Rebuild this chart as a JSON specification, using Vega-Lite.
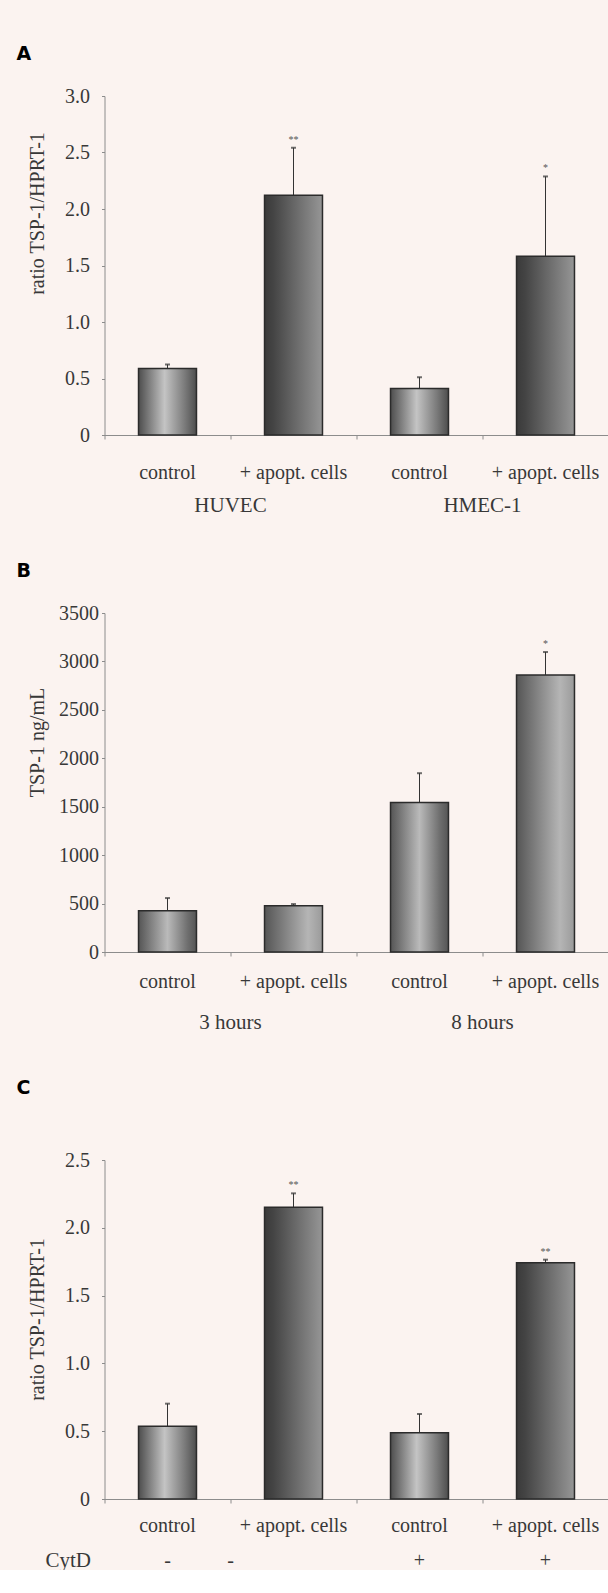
{
  "$schema": "https://vega.github.io/schema/vega-lite/v6.json",
  "background": "#fbf3f0",
  "padding": {"left": 16.5, "top": 45, "right": 0, "bottom": 0},
  "spacing": 47,
  "config": {
    "view": {"stroke": null},
    "font": "Liberation Serif",
    "axis": {
      "labelFont": "Liberation Serif", "titleFont": "Liberation Serif",
      "labelColor": "#383838", "titleColor": "#383838",
      "domainColor": "#8c8c8c", "tickColor": "#8c8c8c",
      "labelFontSize": 20, "titleFontSize": 20, "titleFontWeight": "normal",
      "grid": false, "labelOverlap": false, "labelBound": false, "labelFlush": false
    },
    "title": {"font": "DejaVu Sans", "fontWeight": "bold", "fontSize": 19, "color": "#000000", "anchor": "start", "frame": "group", "baseline": "alphabetic"}
  },
  "vconcat": [
    {
      "title": {"text": "A", "dx": -88, "offset": 22},
      "width": 504, "height": 339,
      "data": {"values": [
        {"id": "control|HUVEC", "kind": "control", "value": 0.588, "err": 0.624, "sig": ""},
        {"id": "+ apopt. cells|HUVEC", "kind": "apopt", "value": 2.122, "err": 2.542, "sig": "**"},
        {"id": "control|HMEC-1", "kind": "control", "value": 0.411, "err": 0.511, "sig": ""},
        {"id": "+ apopt. cells|HMEC-1", "kind": "apopt", "value": 1.581, "err": 2.288, "sig": "*"}
      ]},
      "resolve": {"axis": {"x": "independent"}},
      "layer": [
        {
          "mark": {"type": "rule", "color": "#333333", "strokeWidth": 1},
          "encoding": {
            "x": {"field": "id", "type": "nominal", "sort": null,
                  "axis": {"orient": "bottom", "title": null, "domain": false, "ticks": false, "labelAngle": 0, "labelBaseline": "alphabetic", "labelPadding": 76, "labelOffset": 63, "labelFontSize": 21,
                           "labelExpr": "split(datum.value, '|')[0] == 'control' ? split(datum.value, '|')[1] : ''"}},
            "y": {"field": "value", "type": "quantitative"},
            "y2": {"field": "err"}
          }
        },
        {
          "mark": {"type": "bar", "width": {"band": 0.46}, "stroke": "#2b2b2b", "strokeWidth": 1.5},
          "encoding": {
            "x": {"field": "id", "type": "nominal", "sort": null,
                  "scale": {"paddingInner": 0, "paddingOuter": 0},
                  "axis": {"orient": "bottom", "title": null, "labelAngle": 0, "bandPosition": 0, "tickSize": 4, "labelBaseline": "alphabetic", "labelPadding": 39,
                           "labelExpr": "split(datum.value, '|')[0]"}},
            "y": {"field": "value", "type": "quantitative",
                  "scale": {"domain": [0, 3], "nice": false},
                  "axis": {"title": "ratio TSP-1/HPRT-1", "values": [0, 0.5, 1, 1.5, 2, 2.5, 3], "labelExpr": "datum.value == 0 ? '0' : format(datum.value, '.1f')", "tickSize": 3, "labelPadding": 12,
                           "titleAngle": 270, "titleX": -61, "titleY": 117, "titleAlign": "center", "titleBaseline": "alphabetic"}},
            "fill": {
              "condition": {"test": "datum.kind == 'control'",
                "value": {"gradient": "linear", "x1": 0, "y1": 0, "x2": 1, "y2": 0, "stops": [{"offset": 0, "color": "#4d4d4d"}, {"offset": 0.45, "color": "#c4c4c4"}, {"offset": 0.8, "color": "#7a7a7a"}, {"offset": 1, "color": "#4d4d4d"}]}},
              "value": {"gradient": "linear", "x1": 0, "y1": 0, "x2": 1, "y2": 0, "stops": [{"offset": 0, "color": "#3a3a3a"}, {"offset": 0.15, "color": "#444444"}, {"offset": 1, "color": "#969696"}]}
            }
          }
        },
        {
          "mark": {"type": "tick", "size": 5, "thickness": 2, "color": "#333333"},
          "encoding": {
            "x": {"field": "id", "type": "nominal", "sort": null, "axis": null},
            "y": {"field": "err", "type": "quantitative"}
          }
        },
        {
          "mark": {"type": "text", "dy": -8, "fontSize": 10, "color": "#555555", "baseline": "middle"},
          "encoding": {
            "x": {"field": "id", "type": "nominal", "sort": null, "axis": null},
            "y": {"field": "err", "type": "quantitative"},
            "text": {"field": "sig"}
          }
        }
      ]
    },
    {
      "title": {"text": "B", "dx": -88, "offset": 22},
      "width": 504, "height": 339,
      "data": {"values": [
        {"id": "control|3 hours", "kind": "control", "value": 426, "err": 557, "sig": ""},
        {"id": "+ apopt. cells|3 hours", "kind": "apopt", "value": 478, "err": 495, "sig": ""},
        {"id": "control|8 hours", "kind": "control", "value": 1543, "err": 1846, "sig": ""},
        {"id": "+ apopt. cells|8 hours", "kind": "apopt", "value": 2860, "err": 3097, "sig": "*"}
      ]},
      "resolve": {"axis": {"x": "independent"}},
      "layer": [
        {
          "mark": {"type": "rule", "color": "#333333", "strokeWidth": 1},
          "encoding": {
            "x": {"field": "id", "type": "nominal", "sort": null,
                  "axis": {"orient": "bottom", "title": null, "domain": false, "ticks": false, "labelAngle": 0, "labelBaseline": "alphabetic", "labelPadding": 76, "labelOffset": 63, "labelFontSize": 21,
                           "labelExpr": "split(datum.value, '|')[0] == 'control' ? split(datum.value, '|')[1] : ''"}},
            "y": {"field": "value", "type": "quantitative"},
            "y2": {"field": "err"}
          }
        },
        {
          "mark": {"type": "bar", "width": {"band": 0.46}, "stroke": "#2b2b2b", "strokeWidth": 1.5},
          "encoding": {
            "x": {"field": "id", "type": "nominal", "sort": null,
                  "scale": {"paddingInner": 0, "paddingOuter": 0},
                  "axis": {"orient": "bottom", "title": null, "labelAngle": 0, "bandPosition": 0, "tickSize": 4, "labelBaseline": "alphabetic", "labelPadding": 31,
                           "labelExpr": "split(datum.value, '|')[0]"}},
            "y": {"field": "value", "type": "quantitative",
                  "scale": {"domain": [0, 3500], "nice": false},
                  "axis": {"title": "TSP-1 ng/mL", "values": [0, 500, 1000, 1500, 2000, 2500, 3000, 3500], "format": "d", "tickSize": 3, "labelPadding": 3,
                           "titleAngle": 270, "titleX": -61, "titleY": 129, "titleAlign": "center", "titleBaseline": "alphabetic"}},
            "fill": {
              "condition": {"test": "datum.kind == 'control'",
                "value": {"gradient": "linear", "x1": 0, "y1": 0, "x2": 1, "y2": 0, "stops": [{"offset": 0, "color": "#555555"}, {"offset": 0.5, "color": "#bababa"}, {"offset": 0.85, "color": "#6e6e6e"}, {"offset": 1, "color": "#555555"}]}},
              "value": {"gradient": "linear", "x1": 0, "y1": 0, "x2": 1, "y2": 0, "stops": [{"offset": 0, "color": "#555555"}, {"offset": 0.75, "color": "#b5b5b5"}, {"offset": 1, "color": "#9a9a9a"}]}
            }
          }
        },
        {
          "mark": {"type": "tick", "size": 5, "thickness": 2, "color": "#333333"},
          "encoding": {
            "x": {"field": "id", "type": "nominal", "sort": null, "axis": null},
            "y": {"field": "err", "type": "quantitative"}
          }
        },
        {
          "mark": {"type": "text", "dy": -8, "fontSize": 10, "color": "#555555", "baseline": "middle"},
          "encoding": {
            "x": {"field": "id", "type": "nominal", "sort": null, "axis": null},
            "y": {"field": "err", "type": "quantitative"},
            "text": {"field": "sig"}
          }
        }
      ]
    },
    {
      "title": {"text": "C", "dx": -88, "offset": 52},
      "width": 504, "height": 339,
      "data": {"values": [
        {"id": "control|-", "kind": "control", "value": 0.536, "err": 0.703, "sig": ""},
        {"id": "+ apopt. cells|-", "kind": "apopt", "value": 2.151, "err": 2.254, "sig": "**"},
        {"id": "control|+", "kind": "control", "value": 0.489, "err": 0.627, "sig": ""},
        {"id": "+ apopt. cells|+", "kind": "apopt", "value": 1.743, "err": 1.765, "sig": "**"}
      ]},
      "resolve": {"axis": {"x": "independent"}},
      "layer": [
        {
          "mark": {"type": "rule", "color": "#333333", "strokeWidth": 1},
          "encoding": {
            "x": {"field": "id", "type": "nominal", "sort": null,
                  "axis": {"orient": "bottom", "title": "CytD", "titleFontSize": 21, "titleAngle": 0, "titleAlign": "right", "titleBaseline": "alphabetic", "titleX": -14, "titleY": 67,
                           "domain": false, "ticks": false, "labelAngle": 0, "labelBaseline": "alphabetic", "labelPadding": 67,
                           "labelOffset": {"condition": {"test": "split(datum.value, '|')[0] != 'control' && split(datum.value, '|')[1] == '-'", "value": -63}, "value": 0},
                           "labelExpr": "split(datum.value, '|')[1]"}},
            "y": {"field": "value", "type": "quantitative"},
            "y2": {"field": "err"}
          }
        },
        {
          "mark": {"type": "bar", "width": {"band": 0.46}, "stroke": "#2b2b2b", "strokeWidth": 1.5},
          "encoding": {
            "x": {"field": "id", "type": "nominal", "sort": null,
                  "scale": {"paddingInner": 0, "paddingOuter": 0},
                  "axis": {"orient": "bottom", "title": null, "labelAngle": 0, "bandPosition": 0, "tickSize": 4, "labelBaseline": "alphabetic", "labelPadding": 28,
                           "labelExpr": "split(datum.value, '|')[0]"}},
            "y": {"field": "value", "type": "quantitative",
                  "scale": {"domain": [0, 2.5], "nice": false},
                  "axis": {"title": "ratio TSP-1/HPRT-1", "values": [0, 0.5, 1, 1.5, 2, 2.5], "labelExpr": "datum.value == 0 ? '0' : format(datum.value, '.1f')", "tickSize": 3, "labelPadding": 12,
                           "titleAngle": 270, "titleX": -61, "titleY": 159, "titleAlign": "center", "titleBaseline": "alphabetic"}},
            "fill": {
              "condition": {"test": "datum.kind == 'control'",
                "value": {"gradient": "linear", "x1": 0, "y1": 0, "x2": 1, "y2": 0, "stops": [{"offset": 0, "color": "#4d4d4d"}, {"offset": 0.45, "color": "#c4c4c4"}, {"offset": 0.8, "color": "#7a7a7a"}, {"offset": 1, "color": "#4d4d4d"}]}},
              "value": {"gradient": "linear", "x1": 0, "y1": 0, "x2": 1, "y2": 0, "stops": [{"offset": 0, "color": "#3a3a3a"}, {"offset": 0.15, "color": "#444444"}, {"offset": 1, "color": "#969696"}]}
            }
          }
        },
        {
          "mark": {"type": "tick", "size": 5, "thickness": 2, "color": "#333333"},
          "encoding": {
            "x": {"field": "id", "type": "nominal", "sort": null, "axis": null},
            "y": {"field": "err", "type": "quantitative"}
          }
        },
        {
          "mark": {"type": "text", "dy": -8, "fontSize": 10, "color": "#555555", "baseline": "middle"},
          "encoding": {
            "x": {"field": "id", "type": "nominal", "sort": null, "axis": null},
            "y": {"field": "err", "type": "quantitative"},
            "text": {"field": "sig"}
          }
        }
      ]
    }
  ]
}
